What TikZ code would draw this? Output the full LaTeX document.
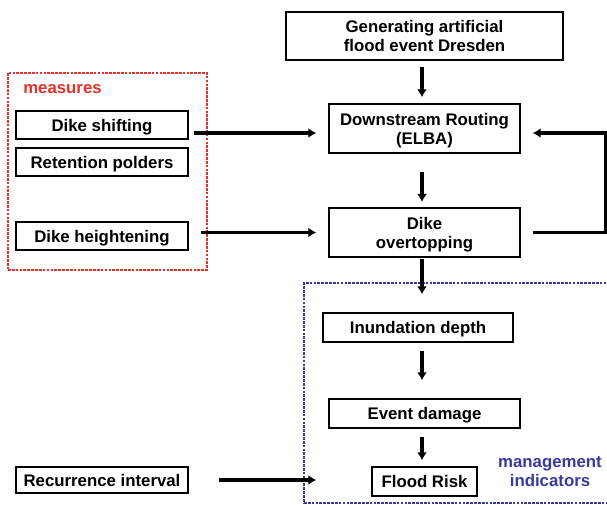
\documentclass[tikz,border=0pt]{standalone}
\usepackage{fontspec}
\setmainfont{Liberation Sans}
\usepackage{xcolor}
\usepackage{tikz}
\usetikzlibrary{arrows.meta}
\definecolor{measred}{RGB}{226,48,44}
\definecolor{indblue}{RGB}{58,58,158}

\begin{document}
\begin{tikzpicture}[x=0.75pt,y=-0.75pt,>={Latex[length=6pt,width=7.5pt]},
		font=\fontsize{12.6}{14.3}\selectfont\bfseries,
		box/.style={draw,line width=1.1pt,align=center,inner sep=0pt,text depth=0pt},
		twoline/.style={box,text depth=-3.5pt},
		arr/.style={->,line width=2.3pt},
		group/.style={line width=2pt,dash pattern=on 2pt off 0.9pt,inner sep=0pt}]
			\useasboundingbox (0,0) rectangle (607,505);
			%main chain
			\node[twoline,minimum width=207.75pt,minimum height=36pt] (gen) at (424.5,36) {Generating artificial\\flood event Dresden};
			\node[twoline,minimum width=143.25pt,minimum height=36.75pt] (route) at (424.5,128.5) {Downstream Routing\\(ELBA)};
			\node[twoline,minimum width=143.25pt,minimum height=36.75pt] (dike) at (424.5,232.5) {Dike\\overtopping};
			\coordinate (col) at (422,0);
			\draw[arr,shorten <=5pt,shorten >=4.5pt] (gen.south -| col) -- (route.north -| col);
			\draw[arr,shorten <=14pt,shorten >=4pt] (route.south -| col) -- (dike.north -| col);
			%measures
			\node[group,draw=measred,minimum width=149.25pt,minimum height=147.75pt] (meas) at (107.5,171.5) {};
			\node[anchor=west,inner sep=0pt,text=measred] (measlbl) at (23,89) {measures};
			\node[box,minimum width=129pt,minimum height=21pt] (shift) at (102,125) {Dike shifting};
			\node[box,minimum width=129pt,minimum height=21pt] (polder) at (102,162) {Retention polders};
			\node[box,minimum width=129pt,minimum height=21pt] (height) at (102,236) {Dike heightening};
			\coordinate (rin) at ([yshift=-3.4pt]route.west);
			\coordinate (rout) at ([yshift=-3.4pt]route.east);
			\draw[arr,shorten <=3.75pt,shorten >=9pt] (shift.east |- rin) -- (rin);
			\draw[arr,shorten <=9pt,shorten >=9pt] (height.east |- dike.west) -- (dike.west);
			\draw[arr,shorten <=9pt,shorten >=9pt] (dike.east) -- ++(85,0) |- (rout);
			%management indicators
			\node[group,draw=indblue,minimum width=229.5pt,minimum height=165pt] (mgmt) at (457,393) {};
			\node[text=indblue,align=center,inner sep=0pt] (mgmtlbl) at (550,472) {management\\indicators};
			\node[box,minimum width=142.5pt,minimum height=21.75pt] (inund) at (418,327.5) {Inundation depth};
			\node[box,minimum width=143.25pt,minimum height=21.75pt] (damage) at (424.5,413.5) {Event damage};
			\node[box,minimum width=78.75pt,minimum height=21.75pt] (risk) at (424.5,481.5) {Flood Risk};
			\draw[arr,shorten <=0.75pt,shorten >=13.5pt] (dike.south -| col) -- (inund.north -| col);
			\draw[arr,shorten <=6pt,shorten >=13.5pt] (inund.south -| col) -- (damage.north -| col);
			\draw[arr,shorten <=6pt,shorten >=4.5pt] (damage.south -| col) -- (risk.north -| col);
			\node[box,minimum width=129pt,minimum height=19.5pt] (recur) at (102,480) {Recurrence interval};
			\draw[arr,shorten <=22.5pt,shorten >=41.25pt] (recur.east) -- (recur.east -| risk.west);
		\end{tikzpicture}
\end{document}
